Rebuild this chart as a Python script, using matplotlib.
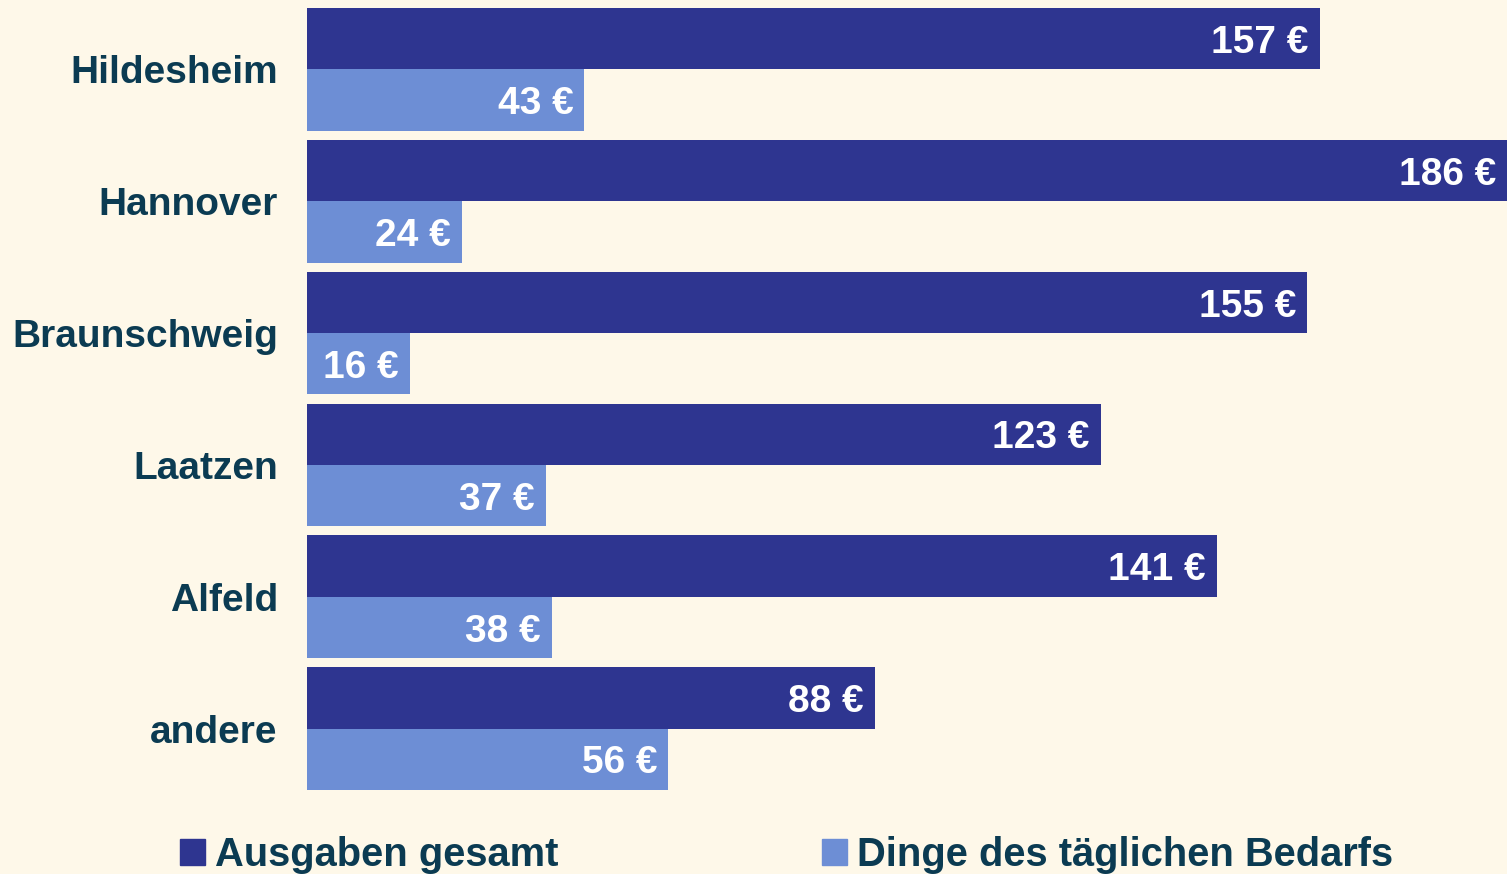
import numpy as np
import matplotlib
matplotlib.use('Agg')
import matplotlib.pyplot as plt
from matplotlib.patches import Patch

# data
staedte   = ['Hildesheim', 'Hannover', 'Braunschweig', 'Laatzen', 'Alfeld', 'andere']
gesamt    = [157, 186, 155, 123, 141, 88]
taeglich  = [43, 24, 16, 37, 38, 56]
serien    = ['Ausgaben gesamt', 'Dinge des täglichen Bedarfs']

bg       = '#FEF8E9'
dunkel   = '#2E3590'
hell     = '#6D8ED5'
textfarbe = '#0B3B52'

plt.rcParams['font.family'] = ['Liberation Sans', 'DejaVu Sans']

W, H = 1507, 874
fig = plt.figure(figsize=(W / 100, H / 100), dpi=100, facecolor=bg)
ax = fig.add_axes([307 / W, 1 - 790 / H, 1 - 307 / W, (790 - 8) / H])
ax.set_facecolor(bg)

y = np.arange(len(staedte))
bh = 0.465
ax.barh(y - bh / 2, gesamt, height=bh, color=dunkel)
ax.barh(y + bh / 2, taeglich, height=bh, color=hell)

ax.set_xlim(0, 186)
ax.set_ylim(len(staedte) - 1 + 0.466, -0.466)

# value labels inside the bar ends
for werte, off in ((gesamt, -bh / 2), (taeglich, bh / 2)):
    for i, v in enumerate(werte):
        ax.annotate('{} €'.format(v), (v, i + off), xytext=(-8, -3),
                    textcoords='offset points', ha='right', va='center',
                    color='white', fontsize=28, fontweight='bold')

ax.set_yticks(y)
ax.set_yticklabels(staedte, fontsize=28, fontweight='bold', color=textfarbe)
ax.tick_params(axis='y', length=0, pad=21)
ax.set_xticks([])
for s in ax.spines.values():
    s.set_visible(False)

handles = [Patch(color=dunkel), Patch(color=hell)]
fig.legend(handles, serien, loc='center left', bbox_to_anchor=(180 / W, 1 - 855 / H),
           ncol=2, frameon=False, borderpad=0, borderaxespad=0,
           handlelength=0.63, handleheight=0.63, handletextpad=0.25,
           columnspacing=6.6, prop={'size': 28.7, 'weight': 'bold'}, labelcolor=textfarbe)

fig.savefig('out.png', dpi=100, facecolor=bg)
